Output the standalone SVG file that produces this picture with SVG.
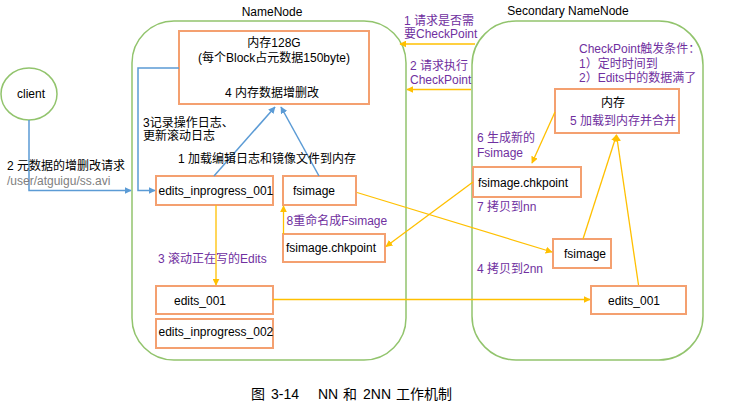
<svg xmlns="http://www.w3.org/2000/svg" width="731" height="412" viewBox="0 0 731 412">
<defs>
<style>
text{font-family:"Liberation Sans","Noto Sans CJK SC",sans-serif;font-size:12px;fill:#000}
.p{fill:#7030A0}
.g{fill:#808080}
.c{text-anchor:middle}
.cap{font-size:14px}
.box{fill:#fff;stroke:#F4A070;stroke-width:2}
.cont{fill:none;stroke:#92C46D;stroke-width:1.5}
.bl{fill:none;stroke:#5B9BD5;stroke-width:1.5;marker-end:url(#ab)}
.yl{fill:none;stroke:#FFC000;stroke-width:1.3;marker-end:url(#ay)}
</style>
<marker id="ab" viewBox="0 0 10 10" refX="9" refY="5" markerWidth="7" markerHeight="7" markerUnits="userSpaceOnUse" orient="auto"><path d="M0,0L10,5L0,10z" fill="#5B9BD5"/></marker>
<marker id="ay" viewBox="0 0 10 10" refX="9" refY="5" markerWidth="7" markerHeight="7" markerUnits="userSpaceOnUse" orient="auto"><path d="M0,0L10,5L0,10z" fill="#FFC000"/></marker>
</defs>
<rect width="731" height="412" fill="#fff"/>

<g id="namenode">
<rect class="cont" x="132" y="21" width="274" height="339" rx="42"/>
<text class="c" x="272" y="16">NameNode</text>
</g>
<g id="secondary-namenode">
<rect class="cont" x="472" y="21" width="231" height="339" rx="44"/>
<text class="c" x="568" y="15">Secondary NameNode</text>
</g>

<g id="client">
<ellipse cx="29" cy="94" rx="28" ry="26" fill="#fff" stroke="#92C46D" stroke-width="1.5"/>
<text class="c" x="31" y="98">client</text>
</g>

<g id="nn-memory">
<rect class="box" x="179" y="31" width="190" height="73"/>
<text class="c" x="274" y="47">内存128G</text>
<text class="c" x="274" y="62">(每个Block占元数据150byte)</text>
<text class="c" x="272" y="97">4 内存数据增删改</text>
</g>
<g id="nn-edits-inprogress-001">
<rect class="box" x="156" y="176" width="117" height="29"/>
<text x="158.5" y="194.5">edits_inprogress_001</text>
</g>
<g id="nn-fsimage">
<rect class="box" x="283" y="176" width="73" height="29"/>
<text x="293" y="194.5">fsimage</text>
</g>
<g id="nn-fsimage-chkpoint">
<rect class="box" x="283" y="234" width="102" height="28"/>
<text x="286" y="251.5">fsimage.chkpoint</text>
</g>
<g id="nn-edits-001">
<rect class="box" x="156" y="286" width="117" height="28"/>
<text x="174" y="305">edits_001</text>
</g>
<g id="nn-edits-inprogress-002">
<rect class="box" x="156" y="319" width="117" height="29"/>
<text x="158.5" y="336">edits_inprogress_002</text>
</g>

<g id="snn-memory">
<rect class="box" x="555" y="89" width="124" height="44"/>
<text class="c" x="613" y="107">内存</text>
<text class="p" x="570" y="125">5 加载到内存并合并</text>
</g>
<g id="snn-fsimage-chkpoint">
<rect class="box" x="473" y="167" width="108" height="30"/>
<text x="478" y="186.5">fsimage.chkpoint</text>
</g>
<g id="snn-fsimage">
<rect class="box" x="553" y="239" width="58" height="29"/>
<text x="564" y="257.5">fsimage</text>
</g>
<g id="snn-edits-001">
<rect class="box" x="591" y="286" width="95" height="28"/>
<text class="c" x="634" y="304.5">edits_001</text>
</g>

<g id="connectors">
<path class="bl" d="M29,120V190.5H131"/>
<path class="bl" d="M179,68H138V190.5H155"/>
<path class="bl" d="M214,176L275,107"/>
<path class="bl" d="M319,176L281,107"/>
<path class="yl" d="M216,205V285"/>
<path class="yl" d="M283.5,234V206"/>
<path class="yl" d="M357,192.5L552,252"/>
<path class="yl" d="M273,299.5H590"/>
<path class="yl" d="M473,182L386,246.5"/>
<path class="yl" d="M555,112L532,163"/>
<path class="yl" d="M583,239L616.5,135"/>
<path class="yl" d="M638.5,285L616.5,135"/>
<path class="yl" d="M475,44H400"/>
<path class="yl" d="M471,89.5H407"/>
</g>

<g id="labels">
<text x="7" y="170">2 元数据的增删改请求</text>
<text class="g" x="7" y="185">/user/atguigu/ss.avi</text>
<text x="143" y="127">3记录操作日志、</text>
<text x="143" y="140">更新滚动日志</text>
<text x="178" y="163">1 加载编辑日志和镜像文件到内存</text>
<text class="p" x="286.5" y="225">8重命名成Fsimage</text>
<text class="p" x="158" y="263">3 滚动正在写的Edits</text>
<text class="p" x="404" y="25">1 请求是否需</text>
<text class="p" x="404" y="38">要CheckPoint</text>
<text class="p" x="410" y="70">2 请求执行</text>
<text class="p" x="410" y="83.5">CheckPoint</text>
<text class="p" x="579" y="52.5">CheckPoint触发条件：</text>
<text class="p" x="579" y="67.5">1）定时时间到</text>
<text class="p" x="579" y="81.5">2）Edits中的数据满了</text>
<text class="p" x="477" y="141.5">6 生成新的</text>
<text class="p" x="477" y="156.5">Fsimage</text>
<text class="p" x="477" y="211">7 拷贝到nn</text>
<text class="p" x="477" y="273">4 拷贝到2nn</text>
<text class="cap" y="399"><tspan x="251">图</tspan><tspan x="271">3-14</tspan><tspan x="318">NN</tspan><tspan x="343">和</tspan><tspan x="363">2NN</tspan><tspan x="396">工作机制</tspan></text>
</g>
</svg>
